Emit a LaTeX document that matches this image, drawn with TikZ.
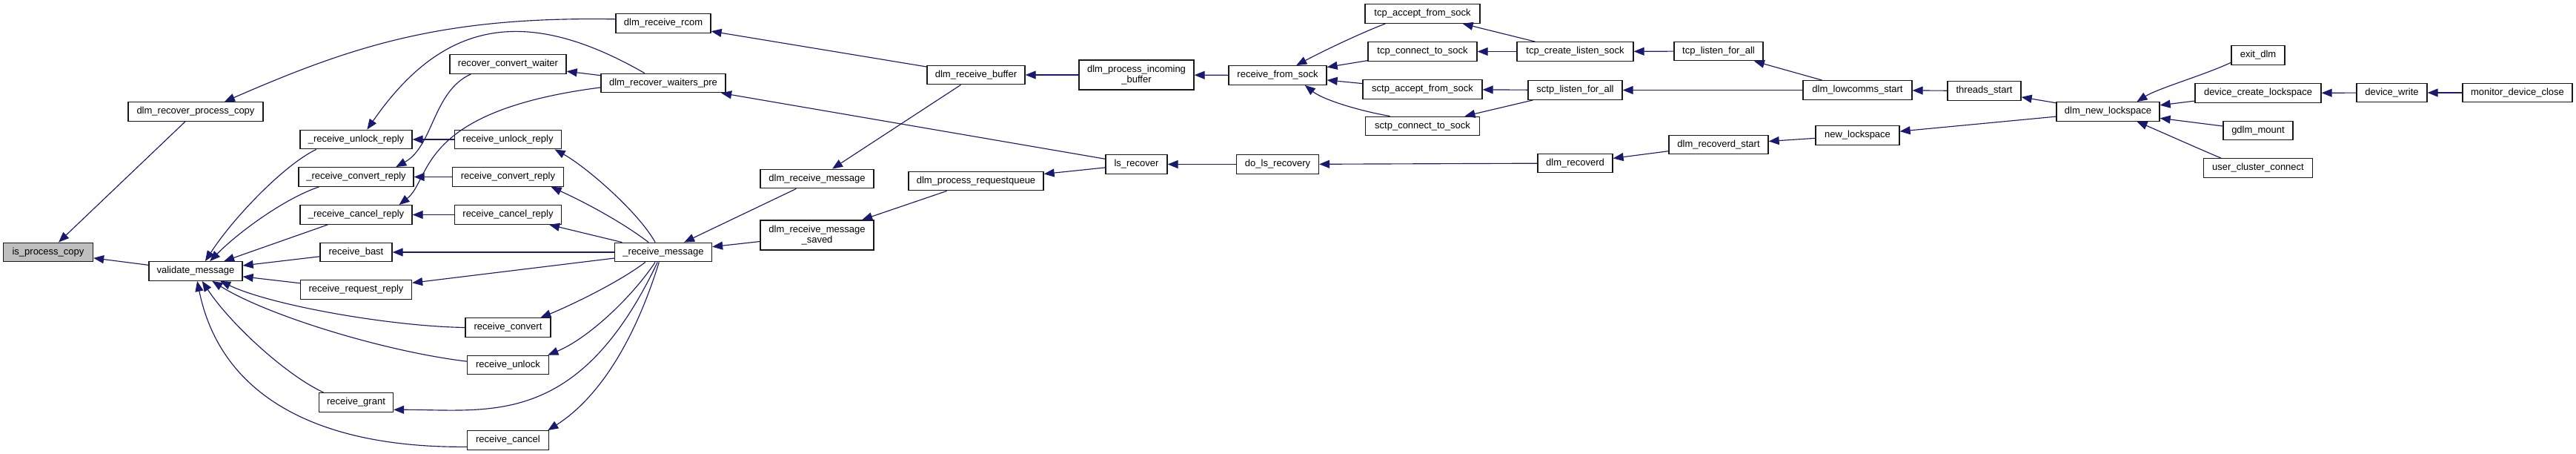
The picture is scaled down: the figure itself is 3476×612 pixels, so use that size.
\documentclass[tikz,border=0pt]{standalone}
\usepackage{fontspec}
\setmainfont{Liberation Sans}
\usetikzlibrary{arrows.meta}
\definecolor{EdgeNavy}{RGB}{25,25,112}
\definecolor{RootGray}{RGB}{191,191,191}

\begin{document}
\begin{tikzpicture}[x=0.02cm,y=-0.02cm,
  fn/.style={draw=black!90,line width=0.75pt,fill=white,inner sep=0pt,minimum height=0.51cm,align=center,font=\fontsize{7.4}{8.2}\selectfont},
  boxw/.style={minimum width=#1*0.02cm},
  tall/.style={minimum height=0.8cm},
  root/.style={fn,fill=RootGray},
  call/.style={EdgeNavy,line width=0.65pt,-{Triangle[length=0.28cm,width=0.22cm]}}]
\useasboundingbox (0,0) rectangle (3476,612);

\node[root,boxw=121] (isp) at (65,340) {is\_process\_copy};
\node[fn,boxw=182] (drpc) at (264,150.5) {dlm\_recover\_process\_copy};
\node[fn,boxw=126] (valmsg) at (264,365.5) {validate\_message};
\node[fn,boxw=151] (iunlrep) at (480.5,188) {\_receive\_unlock\_reply};
\node[fn,boxw=155] (iconvrep) at (480.5,238.5) {\_receive\_convert\_reply};
\node[fn,boxw=151] (icancrep) at (480.5,289.5) {\_receive\_cancel\_reply};
\node[fn,boxw=97] (bast) at (480.5,340) {receive\_bast};
\node[fn,boxw=150] (reqrep) at (480.5,390.5) {receive\_request\_reply};
\node[fn,boxw=100] (grant) at (480.5,542.5) {receive\_grant};
\node[fn,boxw=157] (cvtwait) at (685.5,86.5) {recover\_convert\_waiter};
\node[fn,boxw=144] (unlrep) at (685.5,188) {receive\_unlock\_reply};
\node[fn,boxw=150] (convrep) at (685.5,238.5) {receive\_convert\_reply};
\node[fn,boxw=144] (cancrep) at (685.5,289.5) {receive\_cancel\_reply};
\node[fn,boxw=115] (convert) at (685.5,441.5) {receive\_convert};
\node[fn,boxw=110] (unlock) at (685.5,492) {receive\_unlock};
\node[fn,boxw=110] (cancel) at (685.5,593.5) {receive\_cancel};
\node[fn,boxw=128] (rcom) at (895,31.5) {dlm\_receive\_rcom};
\node[fn,boxw=168] (waitpre) at (895,112) {dlm\_recover\_waiters\_pre};
\node[fn,boxw=131] (imsg) at (895,340) {\_receive\_message};
\node[fn,boxw=153] (rcvmsg) at (1102.5,241) {dlm\_receive\_message};
\node[fn,boxw=153,tall] (rcvsaved) at (1102.5,317) {dlm\_receive\_message\\\_saved};
\node[fn,boxw=132] (rcvbuf) at (1317,101) {dlm\_receive\_buffer};
\node[fn,boxw=182] (reqqueue) at (1317,244) {dlm\_process\_requestqueue};
\node[fn,boxw=155,tall] (incbuf) at (1533.5,101) {dlm\_process\_incoming\\\_buffer};
\node[fn,boxw=83] (lsrec) at (1533.5,221.5) {ls\_recover};
\node[fn,boxw=132] (fromsock) at (1724,101.5) {receive\_from\_sock};
\node[fn,boxw=111] (dolsrec) at (1724,221.5) {do\_ls\_recovery};
\node[fn,boxw=155] (tcpacc) at (1919.5,18.5) {tcp\_accept\_from\_sock};
\node[fn,boxw=147] (tcpconn) at (1919.5,69.5) {tcp\_connect\_to\_sock};
\node[fn,boxw=161] (sctpacc) at (1919.5,120.5) {sctp\_accept\_from\_sock};
\node[fn,boxw=154] (sctpconn) at (1919.5,170) {sctp\_connect\_to\_sock};
\node[fn,boxw=157] (tcpcreate) at (2125.5,69.5) {tcp\_create\_listen\_sock};
\node[fn,boxw=127] (sctpall) at (2125.5,121.5) {sctp\_listen\_for\_all};
\node[fn,boxw=101] (recoverd) at (2125.5,220) {dlm\_recoverd};
\node[fn,boxw=120] (tcpall) at (2319,69) {tcp\_listen\_for\_all};
\node[fn,boxw=134] (recstart) at (2319,195) {dlm\_recoverd\_start};
\node[fn,boxw=147] (lowcomms) at (2506.5,121.5) {dlm\_lowcomms\_start};
\node[fn,boxw=113] (newls) at (2506.5,182.5) {new\_lockspace};
\node[fn,boxw=99] (threads) at (2677.5,122.5) {threads\_start};
\node[fn,boxw=139] (dlmnewls) at (2844.5,150.5) {dlm\_new\_lockspace};
\node[fn,boxw=72] (exitdlm) at (3047,74.5) {exit\_dlm};
\node[fn,boxw=170] (devcreate) at (3047,125.5) {device\_create\_lockspace};
\node[fn,boxw=94] (gdlm) at (3047,176) {gdlm\_mount};
\node[fn,boxw=147] (usercl) at (3047,226.5) {user\_cluster\_connect};
\node[fn,boxw=95] (devwrite) at (3227.5,125) {device\_write};
\node[fn,boxw=148] (monclose) at (3397,125) {monitor\_device\_close};

\draw[call] (drpc) -- (isp);
\draw[call] (valmsg) -- (isp);
\draw[call] (rcom.175) .. controls (600,22) and (480,60) .. (drpc.19);
\draw[call] (iunlrep.194) .. controls (383,222.5) and (314.5,294) .. (valmsg.46);
\draw[call] (iconvrep.195) .. controls (385.5,267) and (324,311) .. (valmsg.35);
\draw[call] (icancrep) -- (valmsg);
\draw[call] (bast) -- (valmsg);
\draw[call] (reqrep) -- (valmsg);
\draw[call] (convert.west) .. controls (528,440) and (367,412) .. (valmsg.338);
\draw[call] (unlock.175) .. controls (520,474) and (361.5,425.7) .. (valmsg.329);
\draw[call] (grant.163) .. controls (385,505) and (310.5,436) .. (valmsg.303);
\draw[call] (cancel.189) .. controls (430,604) and (298,535) .. (valmsg.279);
\draw[call] (waitpre.152) .. controls (705,4) and (595,31) .. (iunlrep.42);
\draw[call] (cvtwait.195) .. controls (584,123) and (585,197) .. (iconvrep.14);
\draw[call] (waitpre.184) .. controls (561,150) and (583,241) .. (icancrep.13);
\draw[call] (waitpre) -- (cvtwait);
\draw[call] (unlrep) -- (iunlrep);
\draw[call] (convrep) -- (iconvrep);
\draw[call] (cancrep) -- (icancrep);
\draw[call] (imsg.129) .. controls (860,284) and (789.5,224) .. (unlrep.348);
\draw[call] (imsg.146) .. controls (836,297) and (785.5,271) .. (convrep.347);
\draw[call] (imsg) -- (cancrep);
\draw[call] (imsg) -- (bast);
\draw[call] (imsg) -- (reqrep);
\draw[call] (imsg.209) .. controls (832,383) and (760,416) .. (convert.17);
\draw[call] (imsg.231) .. controls (851,403) and (792,457) .. (unlock.14);
\draw[call] (imsg.240) .. controls (780.5,578) and (661,552) .. (grant.349);
\draw[call] (imsg.247) .. controls (854,467) and (804,539) .. (cancel.14);
\draw[call] (rcvmsg) -- (imsg);
\draw[call] (rcvsaved) -- (imsg);
\draw[call] (rcvbuf) -- (rcom);
\draw[call] (rcvbuf) -- (rcvmsg);
\draw[call] (lsrec) -- (waitpre);
\draw[call] (lsrec) -- (reqqueue);
\draw[call] (reqqueue) -- (rcvsaved);
\draw[call] (incbuf) -- (rcvbuf);
\draw[call] (fromsock) -- (incbuf);
\draw[call] (dolsrec) -- (lsrec);
\draw[call] (tcpacc.195) .. controls (1835,45) and (1783,70) .. (fromsock.28);
\draw[call] (tcpconn) -- (fromsock);
\draw[call] (sctpacc) -- (fromsock);
\draw[call] (sctpconn.163) .. controls (1837,150) and (1786,135) .. (fromsock.340);
\draw[call] (tcpcreate) -- (tcpacc);
\draw[call] (tcpcreate) -- (tcpconn);
\draw[call] (sctpall) -- (sctpacc);
\draw[call] (sctpall) -- (sctpconn);
\draw[call] (tcpall) -- (tcpcreate);
\draw[call] (lowcomms) -- (tcpall);
\draw[call] (lowcomms) -- (sctpall);
\draw[call] (recoverd) -- (dolsrec);
\draw[call] (recstart) -- (recoverd);
\draw[call] (threads) -- (lowcomms);
\draw[call] (newls) -- (recstart);
\draw[call] (dlmnewls) -- (threads);
\draw[call] (dlmnewls) -- (newls);
\draw[call] (exitdlm.195) .. controls (2975,101) and (2912,119) .. (dlmnewls.19);
\draw[call] (devcreate) -- (dlmnewls);
\draw[call] (gdlm) -- (dlmnewls);
\draw[call] (usercl.165) .. controls (2968,201) and (2912,176) .. (dlmnewls.341);
\draw[call] (devwrite) -- (devcreate);
\draw[call] (monclose) -- (devwrite);
\end{tikzpicture}
\end{document}
